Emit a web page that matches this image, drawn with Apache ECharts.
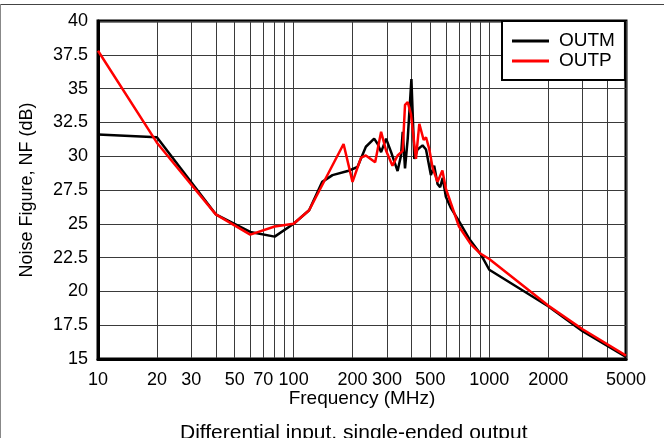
<!DOCTYPE html>
<html>
<head>
<meta charset="utf-8">
<script src="https://cdn.jsdelivr.net/npm/echarts@6/dist/echarts.min.js"></script>
<style>
  html, body { margin: 0; padding: 0; background: #fff; }
  #chart { width: 664px; height: 438px; }
</style>
</head>
<body>
<div id="chart"></div>
<script>
// Noise figure vs frequency, differential input / single-ended output
const freqOUTM = [10, 20, 40, 60, 80, 100, 120, 140, 158, 189, 212, 234, 258, 269, 280, 297, 315, 340, 354, 361, 371, 383, 400, 414, 430, 456, 475, 503, 523, 544, 561, 578, 600, 635, 700, 789, 904, 1000, 2000, 3000, 5000];
const nfOUTM   = [31.6, 31.4, 25.7, 24.4, 24.05, 25.0, 26.0, 28.1, 28.6, 28.9, 29.2, 30.7, 31.3, 30.9, 30.3, 31.3, 30.3, 28.9, 30.05, 31.8, 29.1, 31.3, 35.7, 29.8, 30.5, 30.8, 30.5, 28.6, 29.3, 27.95, 27.7, 28.4, 27.0, 26.2, 25.2, 23.9, 22.75, 21.6, 18.9, 17.05, 15.15];

const freqOUTP = [10, 20, 40, 60, 80, 100, 120, 180, 200, 221, 234, 261, 280, 297, 320, 340, 361, 371, 383, 398, 422, 439, 462, 475, 494, 514, 544, 576, 600, 700, 804, 900, 1000, 2000, 3000, 5000];
const nfOUTP   = [37.8, 31.0, 25.7, 24.2, 24.8, 25.0, 26.0, 30.9, 28.1, 29.9, 30.05, 29.55, 31.8, 30.4, 29.3, 30.05, 30.4, 33.8, 34.0, 33.1, 29.8, 32.4, 31.2, 31.4, 30.5, 29.1, 28.1, 28.95, 27.6, 24.8, 23.5, 22.8, 22.4, 18.95, 17.2, 15.25];

const xLabelValues = [10, 20, 30, 50, 70, 100, 200, 300, 500, 1000, 2000, 5000];
const xGridValues  = [10, 20, 30, 40, 50, 60, 70, 80, 90, 100, 200, 300, 400, 500, 600, 700, 800, 900, 1000, 2000, 3000, 4000, 5000];

const FONT = 'Liberation Sans, Arial, sans-serif';

const pairs = (xs, ys) => xs.map((x, i) => [x, ys[i]]);

const chart = echarts.init(document.getElementById('chart'), null, { renderer: 'canvas' });

chart.setOption({
  animation: false,
  backgroundColor: '#fff',
  grid: {
    left: 98, right: 38, top: 21, bottom: 79,
    show: true, borderColor: '#000', borderWidth: 3, backgroundColor: 'transparent'
  },
  legend: {
    left: 502, top: 21,
    orient: 'vertical',
    backgroundColor: '#fff',
    borderColor: '#000', borderWidth: 2,
    padding: [10, 10, 9, 10],
    itemGap: 0,
    icon: 'rect',
    itemWidth: 37, itemHeight: 3,
    textStyle: { fontFamily: FONT, fontSize: 19, color: '#000', lineHeight: 20, padding: [0, 0, 0, 5] },
    data: ['OUTM', 'OUTP']
  },
  xAxis: {
    type: 'log', logBase: 10, min: 10, max: 5000,
    name: 'Frequency (MHz)', nameLocation: 'middle', nameGap: 30, nameMoveOverlap: false,
    nameTextStyle: { fontFamily: FONT, fontSize: 19, color: '#000' },
    axisLine: { show: true, lineStyle: { color: '#000', width: 3 } },
    axisTick: { show: false, customValues: xGridValues },
    axisLabel: {
      customValues: xLabelValues, fontFamily: FONT, fontSize: 18, color: '#000', margin: 12,
      formatter: (v) => String(Math.round(v))
    },
    splitLine: { show: true, lineStyle: { color: '#3a3a3a', width: 1 } },
    minorSplitLine: { show: false }
  },
  yAxis: {
    type: 'value', min: 15, max: 40, interval: 2.5,
    name: 'Noise Figure, NF (dB)', nameLocation: 'middle', nameGap: 62, nameMoveOverlap: false,
    nameTextStyle: { fontFamily: FONT, fontSize: 18, color: '#000' },
    axisLine: { show: true, lineStyle: { color: '#000', width: 3 } },
    axisTick: { show: false },
    axisLabel: { fontFamily: FONT, fontSize: 18, color: '#000', margin: 10 },
    splitLine: { show: true, lineStyle: { color: '#3a3a3a', width: 1 } }
  },
  series: [
    {
      name: 'OUTM', type: 'line', symbol: 'none',
      lineStyle: { color: '#000', width: 2.5 },
      itemStyle: { color: '#000' },
      data: pairs(freqOUTM, nfOUTM)
    },
    {
      name: 'OUTP', type: 'line', symbol: 'none',
      lineStyle: { color: '#ff0000', width: 2.5 },
      itemStyle: { color: '#ff0000' },
      data: pairs(freqOUTP, nfOUTP)
    }
  ],
  graphic: [
    { type: 'line', silent: true, shape: { x1: 0, y1: 4.5, x2: 664, y2: 4.5 }, style: { stroke: '#444', lineWidth: 1 } },
    { type: 'line', silent: true, shape: { x1: 0.5, y1: 4, x2: 0.5, y2: 438 }, style: { stroke: '#888', lineWidth: 1 } },
    {
      type: 'text', left: 180, top: 423, silent: true,
      style: { text: 'Differential input, single-ended output', font: '21px ' + FONT, fill: '#000' }
    }
  ]
});
</script>
</body>
</html>
